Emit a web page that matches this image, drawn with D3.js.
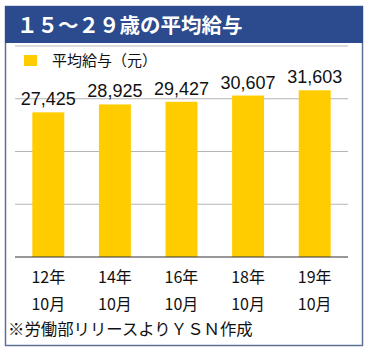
<!DOCTYPE html>
<html>
<head>
<meta charset="utf-8">
<script src="https://cdn.jsdelivr.net/npm/d3@7"></script>
<style>
  body { margin: 0; background: #fff; }
  svg text { font-family: "Liberation Sans", "Noto Sans CJK JP", sans-serif; }
</style>
</head>
<body>
<div id="chart"></div>
<script>
// data
const titleText = "１５〜２９歳の平均給与";
const legendLabel = "平均給与（元）";
const yearLabels = ["12年", "14年", "16年", "18年", "19年"];
const monthLabels = ["10月", "10月", "10月", "10月", "10月"];
const salaries = [27425, 28925, 29427, 30607, 31603];
const yTicks = [10000, 20000, 30000, 40000];
const sourceNote = "※労働部リリースよりＹＳＮ作成";

const width = 369, height = 353;
const plot = { left: 15, right: 348, top: 46, bottom: 257 };

const svg = d3.select("#chart").append("svg")
  .attr("width", width)
  .attr("height", height);

// frame + header
svg.append("rect")
  .attr("x", 5.5).attr("y", 6.5)
  .attr("width", 357).attr("height", 339)
  .attr("fill", "#fff")
  .attr("stroke", "#5d7196").attr("stroke-width", 1.5);

svg.append("rect")
  .attr("x", 5).attr("y", 6)
  .attr("width", 358).attr("height", 37)
  .attr("fill", "#2b4b8e");

svg.append("text")
  .attr("x", 17).attr("y", 33)
  .attr("fill", "#fff")
  .attr("font-size", 20.5).attr("font-weight", "bold")
  .style("font-family", "'Noto Sans CJK JP', sans-serif")
  .text(titleText);

// scales
const x = d3.scaleBand()
  .domain(yearLabels)
  .range([plot.left, plot.right])
  .paddingInner(0.52)
  .paddingOuter(0.26);

const y = d3.scaleLinear()
  .domain([0, 40000])
  .range([plot.bottom, plot.top]);

// gridlines
svg.append("g").selectAll("line")
  .data(yTicks)
  .join("line")
  .attr("x1", plot.left).attr("x2", plot.right)
  .attr("y1", d => y(d)).attr("y2", d => y(d))
  .attr("stroke", "#b5b5b5").attr("stroke-width", 1);

// legend
svg.append("rect")
  .attr("x", 24).attr("y", 55)
  .attr("width", 13).attr("height", 11)
  .attr("fill", "#ffcc00");
svg.append("text")
  .attr("x", 52).attr("y", 66)
  .attr("font-size", 15)
  .style("font-family", "'Noto Sans CJK JP', sans-serif")
  .attr("fill", "#111")
  .text(legendLabel);

// bars
svg.append("g").selectAll("rect")
  .data(salaries)
  .join("rect")
  .attr("x", (d, i) => x(yearLabels[i]))
  .attr("y", d => y(d))
  .attr("width", x.bandwidth())
  .attr("height", d => y(0) - y(d))
  .attr("fill", "#ffcc00");

// value labels
svg.append("g").selectAll("text")
  .data(salaries)
  .join("text")
  .attr("x", (d, i) => x(yearLabels[i]) + x.bandwidth() / 2)
  .attr("y", d => y(d) - 7)
  .attr("text-anchor", "middle")
  .attr("font-size", 18)
  .attr("fill", "#111")
  .text(d => d3.format(",")(d));

// baseline
svg.append("line")
  .attr("x1", plot.left).attr("x2", plot.right)
  .attr("y1", y(0)).attr("y2", y(0))
  .attr("stroke", "#333").attr("stroke-width", 1.2);

// x labels (two lines)
const xl = svg.append("g").selectAll("text")
  .data(yearLabels)
  .join("text")
  .attr("text-anchor", "middle")
  .attr("font-size", 16)
  .attr("fill", "#111")
  .style("font-family", "'Noto Sans CJK JP', sans-serif");
xl.append("tspan")
  .attr("x", d => x(d) + x.bandwidth() / 2)
  .attr("y", 283)
  .text(d => d);
xl.append("tspan")
  .attr("x", d => x(d) + x.bandwidth() / 2)
  .attr("y", 310)
  .text((d, i) => monthLabels[i]);

// source
svg.append("text")
  .attr("x", 8).attr("y", 335)
  .attr("font-size", 16.4)
  .attr("fill", "#111")
  .style("font-family", "'Noto Sans CJK JP', sans-serif")
  .text(sourceNote);
</script>
</body>
</html>
